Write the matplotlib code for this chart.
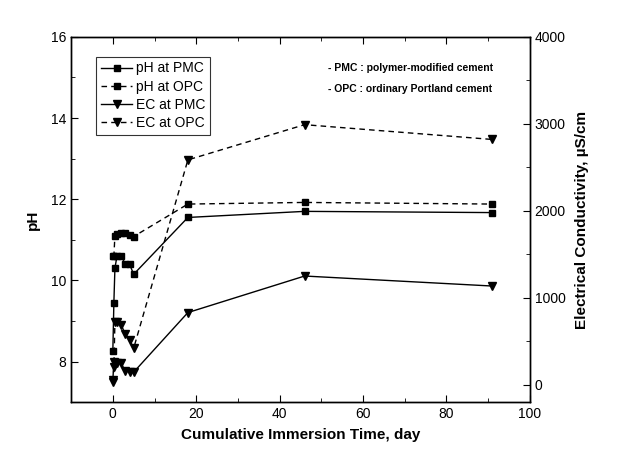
import matplotlib
matplotlib.use("Agg")
import matplotlib.pyplot as plt
from matplotlib.ticker import MultipleLocator

plt.rcParams['font.family'] = ['Liberation Sans', 'DejaVu Sans']

days = [0, 0.25, 0.5, 1, 2, 3, 4, 5, 18, 46, 91]
ph_pmc = [8.25, 9.45, 10.3, 10.6, 10.6, 10.4, 10.4, 10.15, 11.55, 11.7, 11.67]
ph_opc = [10.6, 10.6, 11.1, 11.15, 11.17, 11.17, 11.12, 11.08, 11.88, 11.92, 11.88]
ec_pmc = [50, 260, 250, 250, 245, 160, 150, 145, 830, 1250, 1135]
ec_opc = [30, 200, 720, 720, 690, 580, 520, 420, 2585, 2990, 2820]

labels = ["pH at PMC", "pH at OPC", "EC at PMC", "EC at OPC"]
notes = ["- PMC : polymer-modified cement", "- OPC : ordinary Portland cement"]

fig = plt.figure(figsize=(6.24, 4.66), dpi=100)
ax = fig.add_axes([0.114, 0.137, 0.735, 0.784])
ax2 = ax.twinx()

dash = (0, (4, 3))
lw = 1.0
ms = 4.8
h1, = ax.plot(days, ph_pmc, color='black', lw=lw, ls='-', marker='s', ms=ms)
h2, = ax.plot(days, ph_opc, color='black', lw=lw, ls=dash, marker='s', ms=ms)
h3, = ax2.plot(days, ec_pmc, color='black', lw=lw, ls='-', marker='v', ms=ms + 1)
h4, = ax2.plot(days, ec_opc, color='black', lw=lw, ls=dash, marker='v', ms=ms + 1)

ax.set_xlim(-10, 100)
ax.set_ylim(7, 16)
ax2.set_ylim(-200, 4000)

ax.xaxis.set_major_locator(MultipleLocator(20))
ax.xaxis.set_minor_locator(MultipleLocator(10))
ax.yaxis.set_major_locator(MultipleLocator(2))
ax.yaxis.set_minor_locator(MultipleLocator(1))
ax2.yaxis.set_major_locator(MultipleLocator(1000))
ax2.yaxis.set_minor_locator(MultipleLocator(500))

ax.tick_params(axis='both', which='both', direction='in', labelsize=10)
ax.tick_params(axis='x', which='both', top=True)
ax.tick_params(which='major', length=5)
ax.tick_params(which='minor', length=3)
ax2.tick_params(axis='y', which='both', direction='in', labelsize=10)
ax2.tick_params(which='major', length=5)
ax2.tick_params(which='minor', length=3)

for a in (ax, ax2):
    for s in a.spines.values():
        s.set_linewidth(1.0)

ax.set_xlabel("Cumulative Immersion Time, day", fontsize=11, fontweight='bold', labelpad=5)
ax.set_ylabel("pH", fontsize=11, fontweight='bold', labelpad=8)
ax2.set_ylabel("Electrical Conductivity, \u00b5S/cm", fontsize=11, fontweight='bold', labelpad=7)

leg = ax.legend([h1, h2, h3, h4], labels, loc='upper left', bbox_to_anchor=(0.04, 0.965),
                fontsize=10, frameon=True, fancybox=False, handlelength=2.2,
                handletextpad=0.3, borderpad=0.35, labelspacing=0.3)
leg.get_frame().set_edgecolor('black')
leg.get_frame().set_linewidth(0.8)

ax.text(0.56, 0.915, notes[0], transform=ax.transAxes, fontsize=7.5, fontweight='bold', va='center')
ax.text(0.56, 0.857, notes[1], transform=ax.transAxes, fontsize=7.5, fontweight='bold', va='center')

fig.savefig("out.png", dpi=100)
